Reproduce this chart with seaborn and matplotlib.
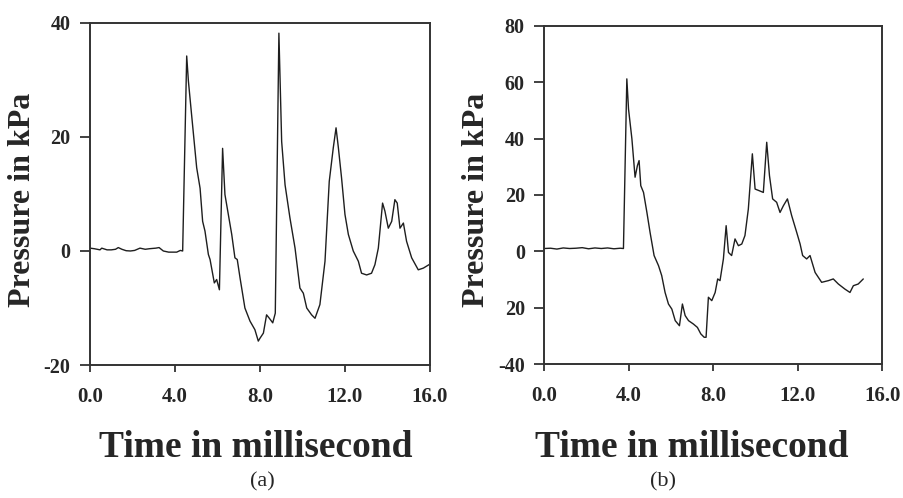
import numpy as np
import pandas as pd
import matplotlib
matplotlib.use("Agg")
import matplotlib.pyplot as plt
import seaborn as sns

# panel (a) pressure trace
time_a = [0.0, 0.2, 0.47, 0.55, 0.8, 1.0, 1.2, 1.33, 1.5, 1.7, 1.9, 2.1, 2.35, 2.6, 2.8, 3.1, 3.25, 3.45, 3.7, 3.9, 4.08, 4.25, 4.36,
          4.55, 4.63, 4.78, 5.02, 5.18, 5.3, 5.41, 5.57, 5.65, 5.85, 5.96, 6.09, 6.24, 6.35, 6.51, 6.67, 6.82, 6.93,
          7.06, 7.29, 7.53, 7.76, 7.92, 8.0, 8.16, 8.31, 8.44, 8.6, 8.72, 8.89, 9.02, 9.18, 9.41, 9.65, 9.88,
          10.04, 10.2, 10.43, 10.59, 10.82, 11.06, 11.26, 11.45, 11.58, 11.69, 11.84, 12.0, 12.16, 12.39, 12.63,
          12.78, 13.02, 13.25, 13.41, 13.57, 13.77, 13.88, 14.04, 14.2, 14.35, 14.46, 14.59, 14.75, 14.9, 15.14,
          15.45, 15.69, 16.0]
press_a = [0.5, 0.4, 0.2, 0.5, 0.2, 0.2, 0.3, 0.6, 0.3, 0.05, 0.0, 0.1, 0.5, 0.3, 0.4, 0.5, 0.6, 0.0, -0.2, -0.2, -0.2, 0.1, 0.0,
           34.2, 29.8, 23.9, 14.6, 11.0, 5.2, 3.5, -0.6, -1.5, -5.6, -5.0, -6.8, 18.0, 9.9, 6.4, 2.9, -1.2, -1.5,
           -4.7, -10.0, -12.3, -13.8, -15.8, -15.3, -14.4, -11.2, -11.8, -12.6, -10.9, 38.2, 19.2, 11.6, 5.8, 0.5, -6.5,
           -7.4, -10.0, -11.2, -11.8, -9.4, -1.8, 12.2, 18.1, 21.6, 18.1, 12.8, 6.4, 2.9, 0.0, -1.8,
           -3.9, -4.2, -3.9, -2.4, 0.5, 8.4, 7.0, 4.0, 5.2, 9.0, 8.4, 4.0, 4.9, 1.7, -1.2,
           -3.3, -3.0, -2.3]

# panel (b) pressure trace
time_b = [0.0, 0.3, 0.6, 0.9, 1.2, 1.5, 1.8, 2.1, 2.4, 2.7, 3.0, 3.3, 3.6, 3.75,
          3.91, 3.99, 4.15, 4.3, 4.41, 4.49, 4.57, 4.7, 4.86, 5.01, 5.2, 5.41, 5.56, 5.72, 5.88, 6.04, 6.2, 6.4,
          6.54, 6.67, 6.83, 7.06, 7.25, 7.41, 7.57, 7.66, 7.77, 7.93, 8.09, 8.21, 8.32, 8.48, 8.61, 8.72, 8.87,
          9.03, 9.19, 9.35, 9.5, 9.66, 9.85, 9.98, 10.18, 10.37, 10.53, 10.66, 10.81, 11.0, 11.16, 11.32, 11.51,
          11.71, 11.95, 12.11, 12.23, 12.42, 12.58, 12.82, 13.13, 13.45, 13.68, 13.92, 14.23, 14.47, 14.63, 14.86,
          15.1]
press_b = [1.0, 1.1, 0.8, 1.2, 1.0, 1.1, 1.3, 0.9, 1.2, 1.0, 1.2, 0.9, 1.1, 1.0,
           61.2, 50.5, 39.9, 26.3, 30.4, 32.2, 23.3, 20.9, 13.8, 6.7, -1.5, -5.1, -8.6, -14.6, -18.7, -20.5, -24.6, -26.4,
           -18.7, -22.8, -24.6, -25.8, -27.0, -29.3, -30.5, -30.5, -16.3, -17.5, -14.6, -9.8, -10.4, -2.7, 9.1, -0.4, -1.5,
           4.4, 2.0, 2.6, 5.6, 15.0, 34.6, 22.1, 21.5, 20.9, 38.7, 26.9, 18.6, 17.4, 13.8, 16.2, 18.6,
           12.7, 6.7, 2.6, -1.5, -2.7, -1.5, -7.5, -11.0, -10.4, -9.8, -11.6, -13.4, -14.6, -12.2, -11.6,
           -9.8]

x_ticks = [0, 4, 8, 12, 16]
x_labels = ["0.0", "4.0", "8.0", "12.0", "16.0"]
y_ticks_a = [-20, 0, 20, 40]
y_labels_a = ["-20", "0", "20", "40"]
y_ticks_b = [-40, -20, 0, 20, 40, 60, 80]
y_labels_b = ["-40", "20", "0", "20", "40", "60", "80"]

sns.set_style("ticks")
plt.rcParams["font.family"] = ["Liberation Serif", "DejaVu Serif"]

fig = plt.figure(figsize=(9.04, 4.98), dpi=100)
ax_a = fig.add_axes([0.0996, 0.267, 0.376, 0.687])
ax_b = fig.add_axes([0.602, 0.269, 0.374, 0.679])

df_a = pd.DataFrame({"t": time_a, "p": press_a})
df_b = pd.DataFrame({"t": time_b, "p": press_b})

panels = [
    (ax_a, df_a, (-20, 40), y_ticks_a, y_labels_a),
    (ax_b, df_b, (-40, 80), y_ticks_b, y_labels_b),
]
for ax, df, ylim, yt, yl in panels:
    sns.lineplot(data=df, x="t", y="p", ax=ax, color="#1e1e1e", lw=1.0, estimator=None)
    ax.set_xlim(0, 16)
    ax.set_ylim(*ylim)
    ax.set_xticks(x_ticks)
    ax.set_xticklabels(x_labels, fontsize=15, fontweight="bold")
    ax.set_yticks(yt)
    ax.set_yticklabels(yl, fontsize=14.5, fontweight="bold")
    ax.tick_params(axis="y", length=7, width=1.3, pad=7, color="#333333")
    ax.tick_params(axis="x", length=5, width=1.3, pad=11, color="#333333")
    for sp in ax.spines.values():
        sp.set_visible(True)
        sp.set_linewidth(1.4)
        sp.set_color("#333333")
    ax.set_xlabel("")
    ax.set_ylabel("")

# axis titles and captions
fig.text(23 / 904, 0.598, "Pressure in kPa", rotation=90, ha="center", va="center",
         fontsize=23, fontweight="bold")
fig.text(477 / 904, 0.598, "Pressure in kPa", rotation=90, ha="center", va="center",
         fontsize=23, fontweight="bold")
fig.text(256 / 904, 1 - 457 / 498, "Time in millisecond", ha="center", va="baseline",
         fontsize=27, fontweight="bold")
fig.text(692 / 904, 1 - 457 / 498, "Time in millisecond", ha="center", va="baseline",
         fontsize=27, fontweight="bold")
fig.text(262 / 904, 1 - 482 / 498, "(a)", ha="center", va="center", fontsize=16)
fig.text(663 / 904, 1 - 482 / 498, "(b)", ha="center", va="center", fontsize=16)

fig.savefig("out.png", dpi=100, facecolor="white")
